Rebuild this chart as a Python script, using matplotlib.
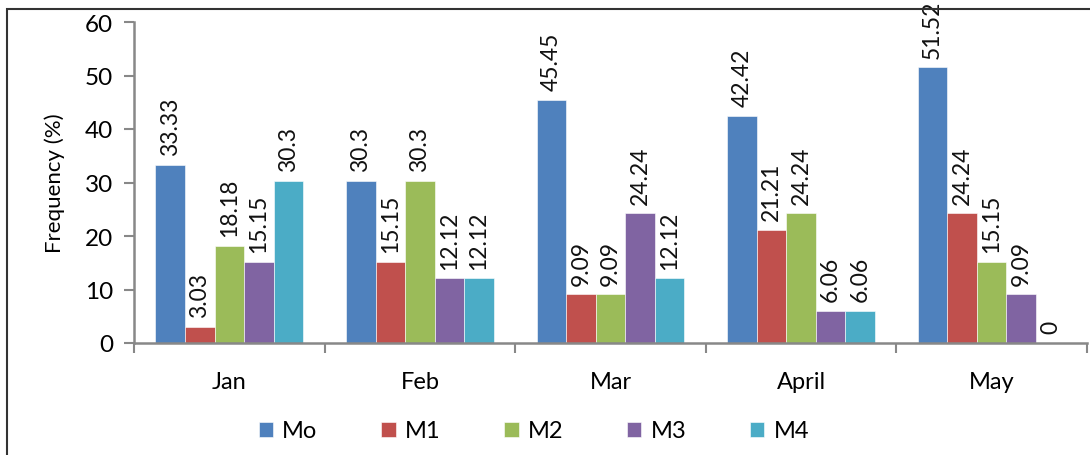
import numpy as np
import matplotlib.pyplot as plt
from matplotlib.patches import Rectangle

plt.rcParams['font.family'] = ['Lato', 'DejaVu Sans']

months = ['Jan', 'Feb', 'Mar', 'April', 'May']
series = ['Mo', 'M1', 'M2', 'M3', 'M4']
mo = [33.33, 30.3, 45.45, 42.42, 51.52]
m1 = [3.03, 15.15, 9.09, 21.21, 24.24]
m2 = [18.18, 30.3, 9.09, 24.24, 15.15]
m3 = [15.15, 12.12, 24.24, 6.06, 9.09]
m4 = [30.3, 12.12, 12.12, 6.06, 0]
labels = [
    ['33.33', '30.3', '45.45', '42.42', '51.52'],
    ['3.03', '15.15', '9.09', '21.21', '24.24'],
    ['18.18', '30.3', '9.09', '24.24', '15.15'],
    ['15.15', '12.12', '24.24', '6.06', '9.09'],
    ['30.3', '12.12', '12.12', '6.06', '0'],
]
colors = ['#4f81bd', '#c0504d', '#9bbb59', '#8064a2', '#4bacc6']

fig = plt.figure(figsize=(10.9, 4.56), dpi=100)
ax = fig.add_axes([134 / 1090, 1 - 344 / 456, (1087 - 134) / 1090, (344 - 23) / 456])

x = np.arange(len(months))
w = 0.155
for i, vals in enumerate([mo, m1, m2, m3, m4]):
    pos = x + (i - 2) * w
    ax.bar(pos, vals, w, color=colors[i], label=series[i], edgecolor='white', linewidth=0.4)
    for p, v, t in zip(pos, vals, labels[i]):
        ax.text(p, v + 1.8, t, rotation=90, ha='center', va='bottom', fontsize=16.5, color='#111111')

ax.set_xlim(-0.5, 4.5)
ax.set_ylim(0, 60)
ax.set_yticks(range(0, 61, 10))
ax.set_xticks(x)
ax.set_xticklabels(months, fontsize=17)
ax.tick_params(axis='x', length=0, pad=20)
ax.set_xticks(np.arange(-0.5, 5, 1), minor=True)
ax.tick_params(axis='x', which='minor', length=7, color='#888888', width=1.5)
ax.tick_params(axis='y', labelsize=17.5, length=7, color='#888888', width=1.5, pad=8)
for s in ['top', 'right']:
    ax.spines[s].set_visible(False)
for s in ['left', 'bottom']:
    ax.spines[s].set_color('#888888')
    ax.spines[s].set_linewidth(1.8)
ax.set_ylabel('Frequency (%)', fontsize=16, labelpad=14)

ax.legend(loc='center', bbox_to_anchor=(0.49, 1 - 432 / 456), bbox_transform=fig.transFigure,
          ncol=5, frameon=False, fontsize=17, handlelength=0.6, handleheight=0.6,
          columnspacing=2.7, handletextpad=0.4)

# outer frame (left and top visible)
fig.add_artist(Rectangle((7 / 1090, -0.1), 1.2, 1 - 10 / 456 + 0.1, transform=fig.transFigure,
                         fill=False, edgecolor='#333333', linewidth=1.5))

fig.savefig('out.png', dpi=100)
